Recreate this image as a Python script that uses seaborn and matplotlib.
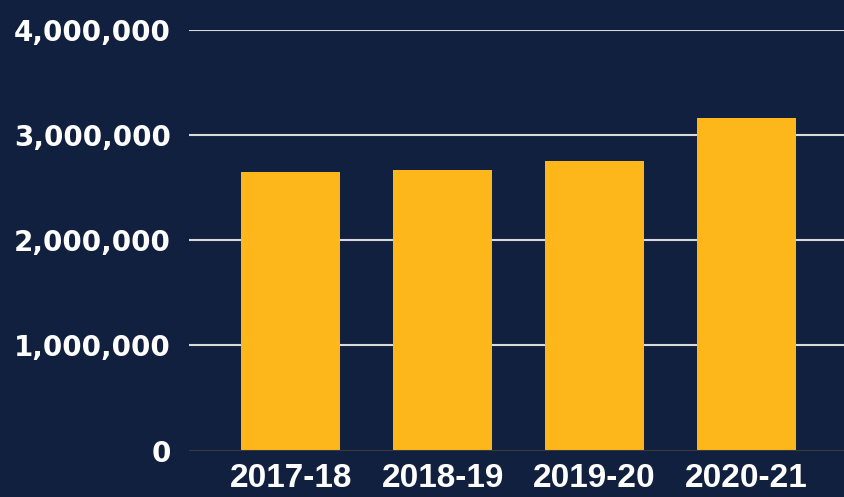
import matplotlib
matplotlib.use("Agg")
import matplotlib.pyplot as plt
import matplotlib.ticker as mticker
import seaborn as sns
import pandas as pd

years = ["2017-18", "2018-19", "2019-20", "2020-21"]
values = [2652000, 2671000, 2754000, 3165000]
y_ticks = [0, 1000000, 2000000, 3000000, 4000000]

BG = "#12203F"
BAR = "#FDB71A"
GRID = "#D9D9D9"

df = pd.DataFrame({"year": years, "value": values})

sns.set_theme(style="dark")
fig = plt.figure(figsize=(8.45, 4.97), dpi=100, facecolor=BG)
ax = fig.add_axes([0.2237, 0.0932, 0.7763, 0.8468])
ax.set_facecolor(BG)

for t in y_ticks[1:]:
    ax.axhline(t, color=GRID, linewidth=1.5, zorder=0)

sns.barplot(data=df, x="year", y="value", color=BAR, saturation=1, width=0.65,
            linewidth=0, ax=ax, zorder=2)
ax.axhline(0, color="#3a3a3a", linewidth=1.5, zorder=3)

ax.set_ylim(0, 4000000)
ax.set_xlim(-0.67, 3.65)
ax.set_yticks(y_ticks)
ax.yaxis.set_major_formatter(mticker.FuncFormatter(lambda v, p: f"{int(v):,}"))
ax.set_xlabel("")
ax.set_ylabel("")
ax.grid(False)
for s in ax.spines.values():
    s.set_visible(False)

ax.tick_params(axis="y", length=0, pad=13, labelcolor="white")
ax.tick_params(axis="x", length=0, pad=9, labelcolor="white")
for lab in ax.get_yticklabels():
    lab.set_fontfamily("DejaVu Sans")
    lab.set_fontweight("bold")
    lab.set_fontsize(20)
for lab in ax.get_xticklabels():
    lab.set_fontfamily("Liberation Sans")
    lab.set_fontweight("bold")
    lab.set_fontsize(24)

fig.savefig("out.png", dpi=100, facecolor=BG)
